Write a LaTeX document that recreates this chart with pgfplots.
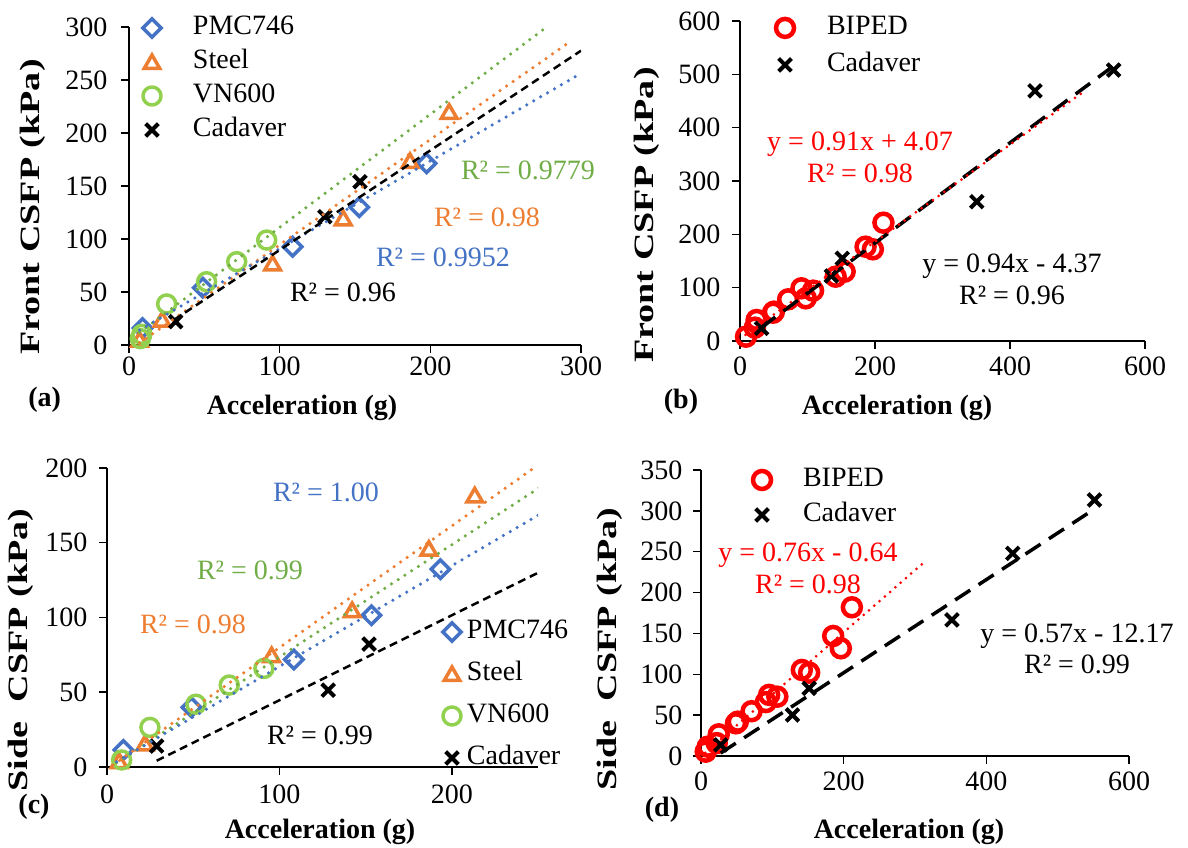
\documentclass[border=0pt]{standalone}
\usepackage{pgfplots}
\pgfplotsset{compat=1.18}
\usepackage{fontspec}
\setmainfont{Liberation Serif}
\definecolor{cblue}{HTML}{4472C4}
\definecolor{corange}{HTML}{ED7D31}
\definecolor{cgreen}{HTML}{70AD47}
\definecolor{cgreenm}{HTML}{92D050}
\definecolor{cred}{HTML}{FF0000}
\newcommand\fs{\fontsize{28bp}{30bp}\selectfont}
\pgfplotsset{
  legsep/.initial=41bp,
  base/.style={
    scale only axis, anchor=south west,
    axis x line*=bottom, axis y line*=left,
    axis line style={line width=1.5bp, black},
    tick align=outside, major tick length=8bp,
    tick style={line width=1.5bp, black},
    ticklabel style={font=\fs},
    /pgf/number format/assume math mode=true,
    clip mode=individual,
    legend cell align=left,
  },
  mk/.style={only marks,
    legend image code/.code={\path[draw=none, fill=none] (-12bp,-10bp) rectangle (\pgfkeysvalueof{/pgfplots/legsep},10bp);
      \draw[##1] plot coordinates {(0bp,0bp)};}},
  pmc/.style={mk, color=cblue, mark=square, mark size=6.5bp, mark options={solid, line width=3.5bp, rotate=45}},
  steel/.style={mk, color=corange, mark=triangle, mark size=9bp, mark options={solid, line width=3.5bp, yshift=-2bp}},
  vn/.style={mk, color=cgreenm, mark=o, mark size=9bp, mark options={solid, line width=3.5bp}},
  cad/.style={mk, color=black, mark=x, mark size=9bp, mark options={solid, line width=4bp}},
  biped/.style={mk, color=cred, mark=o, mark size=9bp, mark options={solid, line width=4.5bp}},
  dotl/.style={forget plot, no marks, line width=3.5bp, line cap=round, dash pattern=on 0bp off 8bp},
  dashs/.style={forget plot, no marks, black, line width=2.5bp, dash pattern=on 8bp off 5bp},
  dashl/.style={forget plot, no marks, black, line width=3.5bp, dash pattern=on 18bp off 10bp},
  leg/.style={legend style={draw=none, fill=none, inner sep=0bp, outer sep=0bp, font=\fs,
     nodes={inner sep=0bp, text height=20bp, text depth=6bp}}},
}
\begin{document}
\begin{tikzpicture}[x=1bp,y=1bp]
\useasboundingbox (0,0) rectangle (1188,848);
% ---------------- (a)
\begin{axis}[base, leg, at={(129bp,503bp)}, width=452bp, height=318bp,
  xmin=0, xmax=300, ymin=0, ymax=300,
  xtick={0,100,200,300}, ytick={0,50,...,300},
  yticklabel style={xshift=-10bp}, legsep=41bp,
  legend style={at={(axis description cs:0.0243,1.0377)}, anchor=north west, row sep=8bp}]
\addplot[pmc] coordinates {(9,16) (49,54) (108.6,92.7) (152.8,130) (197.5,171.4)};
\addlegendentry{PMC746}
\addplot[steel] coordinates {(7,5) (22,24) (95.3,77) (142.2,119.5) (186.5,173.6) (212.5,220)};
\addlegendentry{Steel}
\addplot[vn] coordinates {(7.5,6) (8.5,10) (25,38.7) (51.5,59.7) (71.5,78.6) (91.4,99)};
\addlegendentry{VN600}
\addplot[cad] coordinates {(31,22) (130,121) (153.3,154)};
\addlegendentry{Cadaver}
\addplot[dotl, cgreen] coordinates {(7,11.7) (276,298.7)};
\addplot[dotl, corange] coordinates {(7,2) (292.6,286)};
\addplot[dotl, cblue] coordinates {(7,14) (298,254.6)};
\addplot[dashs] coordinates {(30,23.8) (300,277.6)};
\end{axis}
% ---------------- (b)
\begin{axis}[base, leg, at={(740bp,507bp)}, width=405bp, height=320bp,
  xmin=0, xmax=600, ymin=0, ymax=600,
  xtick={0,200,400,600}, ytick={0,100,...,600},
  yticklabel style={xshift=-8bp}, xticklabel style={yshift=-4bp}, legsep=42bp,
  legend style={at={(axis description cs:0.0815,1.019)}, anchor=north west, row sep=11bp}]
\addplot[biped] coordinates {(8.9,8.1) (22,25) (24.6,39.4) (49,53) (50.2,55) (71.3,78.1) (91,98.8) (97.4,80) (108.2,94.4) (141.7,120.6) (155,130) (186,176.8) (196.8,171.9) (212.5,221.8)};
\addlegendentry{BIPED}
\addplot[cad] coordinates {(32,23.8) (135.3,121.9) (151.5,155) (350.8,261.2) (437,469) (553.5,508)};
\addlegendentry{Cadaver}
\addplot[dashl] coordinates {(31,24.8) (553,515.4)};
\addplot[dotl, cred, line width=3bp, dash pattern=on 0bp off 7bp] coordinates {(8,11.4) (509,467.3)};
\end{axis}
% ---------------- (c)
\begin{axis}[base, leg, at={(107bp,81bp)}, width=431bp, height=299bp,
  xmin=0, xmax=250, ymin=0, ymax=200,
  xtick={0,100,200}, ytick={0,50,...,200},
  yticklabel style={xshift=-8bp}, xticklabel style={yshift=-6bp}, legsep=15bp,
  legend style={at={(axis description cs:0.7726,0.495)}, anchor=north west, row sep=16bp}]
\addplot[pmc] coordinates {(9.5,11.4) (49,39.9) (108.4,71.9) (153.4,101.5) (193.4,132.3)};
\addlegendentry{PMC746}
\addplot[steel] coordinates {(7,4) (22,15.8) (95.5,74.8) (142.2,104.9) (186.7,146) (213.3,181.7)};
\addlegendentry{Steel}
\addplot[vn] coordinates {(8.5,4.7) (24.9,26.5) (51.6,42) (70.9,54.8) (91,65.9)};
\addlegendentry{VN600}
\addplot[cad] coordinates {(28.8,14) (128.3,51.4) (152,82.2)};
\addlegendentry{Cadaver}
\addplot[dotl, corange] coordinates {(3.5,1.3) (247,199.5)};
\addplot[dotl, cgreen] coordinates {(5.6,2.7) (251,187)};
\addplot[dotl, cblue] coordinates {(5.6,3.5) (251,169)};
\addplot[dashs] coordinates {(28.8,4.2) (250,129.9)};
\end{axis}
% ---------------- (d)
\begin{axis}[base, leg, at={(701bp,92bp)}, width=428bp, height=286bp,
  xmin=0, xmax=600, ymin=0, ymax=350,
  xtick={0,200,400,600}, ytick={0,50,...,350},
  yticklabel style={xshift=-7bp}, xticklabel style={yshift=-4bp}, legsep=41bp,
  legend style={at={(axis description cs:0.1145,1.0105)}, anchor=north west, row sep=9bp}]
\addplot[biped] coordinates {(6.6,5.3) (9.5,11.4) (22,15.8) (24.9,26.5) (49,40) (51.6,42) (70.9,54.8) (91,66) (95.5,74.8) (107,72.6) (141.3,105.3) (151.6,102) (185.3,146.9) (196,131.8) (211.5,182)};
\addlegendentry{BIPED}
\addplot[cad] coordinates {(27.6,13.5) (128.2,50.2) (151.6,82.8) (351.8,166.5) (437,248) (551.6,313.3)};
\addlegendentry{Cadaver}
\addplot[dashl] coordinates {(27.6,3.6) (552,302.5)};
\addplot[dotl, cred, line width=3bp, dash pattern=on 0bp off 7bp] coordinates {(6,3.9) (311,235.7)};
\end{axis}
% ---------------- texts
\tikzset{lab/.style={anchor=base, inner sep=0bp, font=\fs}}
\node[lab, text=cgreen] at (528,668.7) {R² = 0.9779};
\node[lab, text=corange] at (487,621.7) {R² = 0.98};
\node[lab, text=cblue] at (443,581.7) {R² = 0.9952};
\node[lab] at (343,546.7) {R² = 0.96};
\node[lab, text=cred] at (860,697.7) {y = 0.91x + 4.07};
\node[lab, text=cred] at (860,665.7) {R² = 0.98};
\node[lab] at (1012,575.7) {y = 0.94x - 4.37};
\node[lab] at (1012,543.7) {R² = 0.96};
\node[lab, text=cblue] at (326,346.7) {R² = 1.00};
\node[lab, text=cgreen] at (250,268.7) {R² = 0.99};
\node[lab, text=corange] at (193,214.7) {R² = 0.98};
\node[lab] at (320,103.7) {R² = 0.99};
\node[lab, text=cred] at (808,286.7) {y = 0.76x - 0.64};
\node[lab, text=cred] at (808,254.7) {R² = 0.98};
\node[lab] at (1077,205.7) {y = 0.57x - 12.17};
\node[lab] at (1077,174.7) {R² = 0.99};
% axis labels
\node[lab, font=\fs\bfseries] at (302,433) {Acceleration (g)};
\node[lab, font=\fs\bfseries] at (44.6,441) {(a)};
\node[lab, font=\fs\bfseries] at (897,433.4) {Acceleration (g)};
\node[lab, font=\fs\bfseries] at (681,439) {(b)};
\node[lab, font=\fs\bfseries] at (320,9.5) {Acceleration (g)};
\node[lab, font=\fs\bfseries] at (34,34) {(c)};
\node[lab, font=\fs\bfseries] at (909,9) {Acceleration (g)};
\node[lab, font=\fs\bfseries] at (662,31) {(d)};
\tikzset{ylab/.style={anchor=center, inner sep=0bp, font=\fs\bfseries, rotate=90}}
\node[ylab] at (33,641) {\scalebox{1.36}[1]{Front CSFP (kPa)}};
\node[ylab] at (647,633) {\scalebox{1.36}[1]{Front CSFP (kPa)}};
\node[ylab] at (21,198) {\scalebox{1.36}[1]{Side\ \ CSFP (kPa)}};
\node[ylab] at (610,199) {\scalebox{1.36}[1]{Side\ \ CSFP (kPa)}};
\end{tikzpicture}
\end{document}
